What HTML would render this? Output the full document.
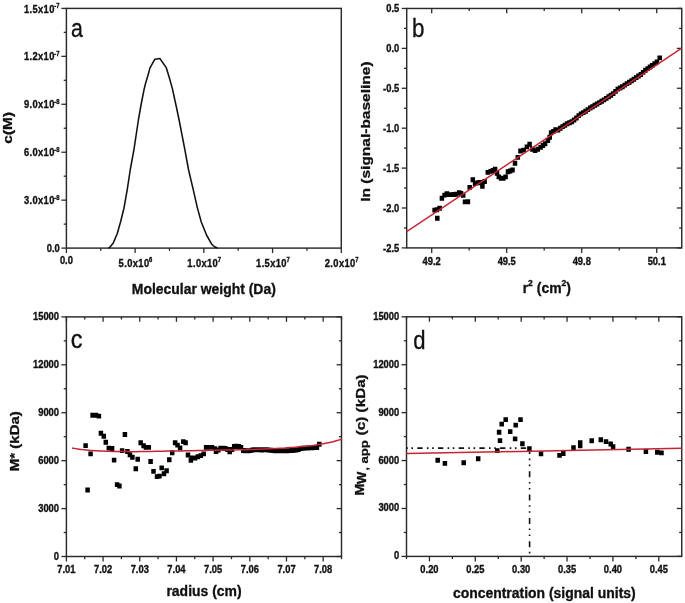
<!DOCTYPE html>
<html><head><meta charset="utf-8"><style>
html,body{margin:0;padding:0;background:#fff;}
svg{display:block;filter:blur(0.4px);}
text{font-family:"Liberation Sans", sans-serif;fill:#111;stroke:#111;stroke-width:0.35px;}
</style></head><body>
<svg width="685" height="603" viewBox="0 0 685 603">
<rect width="685" height="603" fill="#fff"/>
<rect x="66.4" y="8.4" width="274.9" height="239.7" fill="none" stroke="#2a2a2a" stroke-width="1.45"/>
<line x1="66.4" y1="248.1" x2="66.4" y2="253.1" stroke="#2a2a2a" stroke-width="1.3"/>
<line x1="135.12" y1="248.1" x2="135.12" y2="253.1" stroke="#2a2a2a" stroke-width="1.3"/>
<line x1="203.85" y1="248.1" x2="203.85" y2="253.1" stroke="#2a2a2a" stroke-width="1.3"/>
<line x1="272.57" y1="248.1" x2="272.57" y2="253.1" stroke="#2a2a2a" stroke-width="1.3"/>
<line x1="341.3" y1="248.1" x2="341.3" y2="253.1" stroke="#2a2a2a" stroke-width="1.3"/>
<line x1="100.76" y1="248.1" x2="100.76" y2="250.8" stroke="#2a2a2a" stroke-width="1.3"/>
<line x1="169.49" y1="248.1" x2="169.49" y2="250.8" stroke="#2a2a2a" stroke-width="1.3"/>
<line x1="238.21" y1="248.1" x2="238.21" y2="250.8" stroke="#2a2a2a" stroke-width="1.3"/>
<line x1="306.94" y1="248.1" x2="306.94" y2="250.8" stroke="#2a2a2a" stroke-width="1.3"/>
<line x1="61.4" y1="248.1" x2="66.4" y2="248.1" stroke="#2a2a2a" stroke-width="1.3"/>
<line x1="61.4" y1="200.16" x2="66.4" y2="200.16" stroke="#2a2a2a" stroke-width="1.3"/>
<line x1="61.4" y1="152.22" x2="66.4" y2="152.22" stroke="#2a2a2a" stroke-width="1.3"/>
<line x1="61.4" y1="104.28" x2="66.4" y2="104.28" stroke="#2a2a2a" stroke-width="1.3"/>
<line x1="61.4" y1="56.34" x2="66.4" y2="56.34" stroke="#2a2a2a" stroke-width="1.3"/>
<line x1="61.4" y1="8.4" x2="66.4" y2="8.4" stroke="#2a2a2a" stroke-width="1.3"/>
<line x1="63.7" y1="224.13" x2="66.4" y2="224.13" stroke="#2a2a2a" stroke-width="1.3"/>
<line x1="63.7" y1="176.19" x2="66.4" y2="176.19" stroke="#2a2a2a" stroke-width="1.3"/>
<line x1="63.7" y1="128.25" x2="66.4" y2="128.25" stroke="#2a2a2a" stroke-width="1.3"/>
<line x1="63.7" y1="80.31" x2="66.4" y2="80.31" stroke="#2a2a2a" stroke-width="1.3"/>
<line x1="63.7" y1="32.37" x2="66.4" y2="32.37" stroke="#2a2a2a" stroke-width="1.3"/>
<text transform="translate(59.7 252.2) scale(0.9 1)" font-size="10.4" font-weight="bold" text-anchor="end">0.0</text>
<text transform="translate(59.5 204.26) scale(0.9 1)" font-size="10.4" font-weight="bold" text-anchor="end" letter-spacing="0.42">3.0x10<tspan font-size="6.5" dx="-0.5" dy="-4.3" letter-spacing="0">-8</tspan></text>
<text transform="translate(59.5 156.32) scale(0.9 1)" font-size="10.4" font-weight="bold" text-anchor="end" letter-spacing="0.42">6.0x10<tspan font-size="6.5" dx="-0.5" dy="-4.3" letter-spacing="0">-8</tspan></text>
<text transform="translate(59.5 108.38) scale(0.9 1)" font-size="10.4" font-weight="bold" text-anchor="end" letter-spacing="0.42">9.0x10<tspan font-size="6.5" dx="-0.5" dy="-4.3" letter-spacing="0">-8</tspan></text>
<text transform="translate(59.5 60.44) scale(0.9 1)" font-size="10.4" font-weight="bold" text-anchor="end" letter-spacing="0.42">1.2x10<tspan font-size="6.5" dx="-0.5" dy="-4.3" letter-spacing="0">-7</tspan></text>
<text transform="translate(59.5 12.5) scale(0.9 1)" font-size="10.4" font-weight="bold" text-anchor="end" letter-spacing="0.42">1.5x10<tspan font-size="6.5" dx="-0.5" dy="-4.3" letter-spacing="0">-7</tspan></text>
<text transform="translate(66.4 264.4) scale(0.9 1)" font-size="10.4" font-weight="bold" text-anchor="middle">0.0</text>
<text transform="translate(135.43 266.5) scale(0.9 1)" font-size="10.4" font-weight="bold" text-anchor="middle" letter-spacing="0.42">5.0x10<tspan font-size="6.5" dx="-0.5" dy="-4.3" letter-spacing="0">6</tspan></text>
<text transform="translate(204.15 266.5) scale(0.9 1)" font-size="10.4" font-weight="bold" text-anchor="middle" letter-spacing="0.42">1.0x10<tspan font-size="6.5" dx="-0.5" dy="-4.3" letter-spacing="0">7</tspan></text>
<text transform="translate(272.88 266.5) scale(0.9 1)" font-size="10.4" font-weight="bold" text-anchor="middle" letter-spacing="0.42">1.5x10<tspan font-size="6.5" dx="-0.5" dy="-4.3" letter-spacing="0">7</tspan></text>
<text transform="translate(341.6 266.5) scale(0.9 1)" font-size="10.4" font-weight="bold" text-anchor="middle" letter-spacing="0.42">2.0x10<tspan font-size="6.5" dx="-0.5" dy="-4.3" letter-spacing="0">7</tspan></text>
<text transform="translate(203.8 294.1) scale(0.9 1)" font-size="15.5" font-weight="bold" text-anchor="middle">Molecular weight (Da)</text>
<text transform="translate(11.5 127.8) scale(0.8 1) rotate(-90)" font-size="15.5" font-weight="bold" text-anchor="middle">c(M)</text>
<text transform="translate(71 36.9) scale(0.82 1)" font-size="26" font-weight="normal" text-anchor="start">a</text>
<path d="M108.3 248.1 L109.6 247.4 L113.3 242.9 L117.2 233.7 L120.6 221.7 L123.9 208.5 L127.2 189.9 L130.2 170 L133.9 149.8 L138.4 120 L141.2 104 L144 89.8 L145.6 83.2 L148 75.2 L150 67.9 L154.9 59.2 L159.9 58.5 L166.2 67.6 L169.2 77.2 L172.5 89.1 L176.6 108 L179.1 120 L184.9 149.8 L188.6 170 L193.3 189.9 L197.2 207.1 L201.2 221.7 L206.5 235 L211.8 244.3 L214.5 246.8 L217.5 248" fill="none" stroke="#111" stroke-width="1.55" stroke-linejoin="round"/>
<rect x="406.7" y="8.46" width="275.05" height="239.44" fill="none" stroke="#2a2a2a" stroke-width="1.45"/>
<line x1="431.7" y1="247.9" x2="431.7" y2="252.9" stroke="#2a2a2a" stroke-width="1.3"/>
<line x1="431.7" y1="8.46" x2="431.7" y2="13.36" stroke="#2a2a2a" stroke-width="1.3"/>
<line x1="506.72" y1="247.9" x2="506.72" y2="252.9" stroke="#2a2a2a" stroke-width="1.3"/>
<line x1="506.72" y1="8.46" x2="506.72" y2="13.36" stroke="#2a2a2a" stroke-width="1.3"/>
<line x1="581.73" y1="247.9" x2="581.73" y2="252.9" stroke="#2a2a2a" stroke-width="1.3"/>
<line x1="581.73" y1="8.46" x2="581.73" y2="13.36" stroke="#2a2a2a" stroke-width="1.3"/>
<line x1="656.75" y1="247.9" x2="656.75" y2="252.9" stroke="#2a2a2a" stroke-width="1.3"/>
<line x1="656.75" y1="8.46" x2="656.75" y2="13.36" stroke="#2a2a2a" stroke-width="1.3"/>
<line x1="469.21" y1="247.9" x2="469.21" y2="250.6" stroke="#2a2a2a" stroke-width="1.3"/>
<line x1="469.21" y1="8.46" x2="469.21" y2="11.06" stroke="#2a2a2a" stroke-width="1.3"/>
<line x1="544.22" y1="247.9" x2="544.22" y2="250.6" stroke="#2a2a2a" stroke-width="1.3"/>
<line x1="544.22" y1="8.46" x2="544.22" y2="11.06" stroke="#2a2a2a" stroke-width="1.3"/>
<line x1="619.24" y1="247.9" x2="619.24" y2="250.6" stroke="#2a2a2a" stroke-width="1.3"/>
<line x1="619.24" y1="8.46" x2="619.24" y2="11.06" stroke="#2a2a2a" stroke-width="1.3"/>
<line x1="401.7" y1="247.9" x2="406.7" y2="247.9" stroke="#2a2a2a" stroke-width="1.3"/>
<line x1="676.85" y1="247.9" x2="681.75" y2="247.9" stroke="#2a2a2a" stroke-width="1.3"/>
<line x1="401.7" y1="207.99" x2="406.7" y2="207.99" stroke="#2a2a2a" stroke-width="1.3"/>
<line x1="676.85" y1="207.99" x2="681.75" y2="207.99" stroke="#2a2a2a" stroke-width="1.3"/>
<line x1="401.7" y1="168.09" x2="406.7" y2="168.09" stroke="#2a2a2a" stroke-width="1.3"/>
<line x1="676.85" y1="168.09" x2="681.75" y2="168.09" stroke="#2a2a2a" stroke-width="1.3"/>
<line x1="401.7" y1="128.18" x2="406.7" y2="128.18" stroke="#2a2a2a" stroke-width="1.3"/>
<line x1="676.85" y1="128.18" x2="681.75" y2="128.18" stroke="#2a2a2a" stroke-width="1.3"/>
<line x1="401.7" y1="88.27" x2="406.7" y2="88.27" stroke="#2a2a2a" stroke-width="1.3"/>
<line x1="676.85" y1="88.27" x2="681.75" y2="88.27" stroke="#2a2a2a" stroke-width="1.3"/>
<line x1="401.7" y1="48.37" x2="406.7" y2="48.37" stroke="#2a2a2a" stroke-width="1.3"/>
<line x1="676.85" y1="48.37" x2="681.75" y2="48.37" stroke="#2a2a2a" stroke-width="1.3"/>
<line x1="401.7" y1="8.46" x2="406.7" y2="8.46" stroke="#2a2a2a" stroke-width="1.3"/>
<line x1="676.85" y1="8.46" x2="681.75" y2="8.46" stroke="#2a2a2a" stroke-width="1.3"/>
<line x1="404" y1="227.95" x2="406.7" y2="227.95" stroke="#2a2a2a" stroke-width="1.3"/>
<line x1="679.15" y1="227.95" x2="681.75" y2="227.95" stroke="#2a2a2a" stroke-width="1.3"/>
<line x1="404" y1="188.04" x2="406.7" y2="188.04" stroke="#2a2a2a" stroke-width="1.3"/>
<line x1="679.15" y1="188.04" x2="681.75" y2="188.04" stroke="#2a2a2a" stroke-width="1.3"/>
<line x1="404" y1="148.13" x2="406.7" y2="148.13" stroke="#2a2a2a" stroke-width="1.3"/>
<line x1="679.15" y1="148.13" x2="681.75" y2="148.13" stroke="#2a2a2a" stroke-width="1.3"/>
<line x1="404" y1="108.23" x2="406.7" y2="108.23" stroke="#2a2a2a" stroke-width="1.3"/>
<line x1="679.15" y1="108.23" x2="681.75" y2="108.23" stroke="#2a2a2a" stroke-width="1.3"/>
<line x1="404" y1="68.32" x2="406.7" y2="68.32" stroke="#2a2a2a" stroke-width="1.3"/>
<line x1="679.15" y1="68.32" x2="681.75" y2="68.32" stroke="#2a2a2a" stroke-width="1.3"/>
<line x1="404" y1="28.41" x2="406.7" y2="28.41" stroke="#2a2a2a" stroke-width="1.3"/>
<line x1="679.15" y1="28.41" x2="681.75" y2="28.41" stroke="#2a2a2a" stroke-width="1.3"/>
<text transform="translate(399.2 251.5) scale(0.9 1)" font-size="10.4" font-weight="bold" text-anchor="end">-2.5</text>
<text transform="translate(399.2 211.59) scale(0.9 1)" font-size="10.4" font-weight="bold" text-anchor="end">-2.0</text>
<text transform="translate(399.2 171.69) scale(0.9 1)" font-size="10.4" font-weight="bold" text-anchor="end">-1.5</text>
<text transform="translate(399.2 131.78) scale(0.9 1)" font-size="10.4" font-weight="bold" text-anchor="end">-1.0</text>
<text transform="translate(399.2 91.87) scale(0.9 1)" font-size="10.4" font-weight="bold" text-anchor="end">-0.5</text>
<text transform="translate(399.2 51.97) scale(0.9 1)" font-size="10.4" font-weight="bold" text-anchor="end">0.0</text>
<text transform="translate(399.2 12.06) scale(0.9 1)" font-size="10.4" font-weight="bold" text-anchor="end">0.5</text>
<text transform="translate(431.7 264.6) scale(0.9 1)" font-size="10.4" font-weight="bold" text-anchor="middle">49.2</text>
<text transform="translate(506.72 264.6) scale(0.9 1)" font-size="10.4" font-weight="bold" text-anchor="middle">49.5</text>
<text transform="translate(581.73 264.6) scale(0.9 1)" font-size="10.4" font-weight="bold" text-anchor="middle">49.8</text>
<text transform="translate(656.75 264.6) scale(0.9 1)" font-size="10.4" font-weight="bold" text-anchor="middle">50.1</text>
<text transform="translate(546.8 293.4) scale(0.9 1)" font-size="15.5" font-weight="bold" text-anchor="middle">r<tspan font-size="9.5" dy="-7">2</tspan><tspan dy="7"> (cm</tspan><tspan font-size="9.5" dy="-7">2</tspan><tspan dy="7">)</tspan></text>
<text transform="translate(370 131.6) scale(0.77 1) rotate(-90)" font-size="15.5" font-weight="bold" text-anchor="middle">ln (signal-baseline)</text>
<text transform="translate(412 36.9) scale(0.86 1)" font-size="26" font-weight="normal" text-anchor="start">b</text>
<path d="M432.35 207.65h4.5v4.9h-4.5zM434.65 207.25h4.5v4.9h-4.5zM435.05 215.75h4.5v4.9h-4.5zM437.35 205.85h4.5v4.9h-4.5zM439.65 195.85h4.5v4.9h-4.5zM442.35 192.65h4.5v4.9h-4.5zM444.65 191.25h4.5v4.9h-4.5zM446.95 192.15h4.5v4.9h-4.5zM449.25 192.15h4.5v4.9h-4.5zM451.45 192.05h4.5v4.9h-4.5zM453.75 191.75h4.5v4.9h-4.5zM456.95 190.35h4.5v4.9h-4.5zM458.75 191.05h4.5v4.9h-4.5zM460.95 192.75h4.5v4.9h-4.5zM462.75 199.45h4.5v4.9h-4.5zM465.65 199.35h4.5v4.9h-4.5zM467.45 184.95h4.5v4.9h-4.5zM470.55 177.25h4.5v4.9h-4.5zM472.85 181.15h4.5v4.9h-4.5zM475.55 180.35h4.5v4.9h-4.5zM477.85 179.95h4.5v4.9h-4.5zM480.15 183.85h4.5v4.9h-4.5zM482.35 179.05h4.5v4.9h-4.5zM485.55 169.95h4.5v4.9h-4.5zM488.35 168.95h4.5v4.9h-4.5zM490.55 168.05h4.5v4.9h-4.5zM492.85 166.75h4.5v4.9h-4.5zM494.75 170.85h4.5v4.9h-4.5zM496.55 174.45h4.5v4.9h-4.5zM498.85 175.85h4.5v4.9h-4.5zM501.05 175.85h4.5v4.9h-4.5zM503.35 174.45h4.5v4.9h-4.5zM505.75 169.35h4.5v4.9h-4.5zM507.95 168.55h4.5v4.9h-4.5zM510.25 167.55h4.5v4.9h-4.5zM512.75 160.85h4.5v4.9h-4.5zM515.55 154.95h4.5v4.9h-4.5zM518.25 148.55h4.5v4.9h-4.5zM521.45 147.65h4.5v4.9h-4.5zM524.65 144.45h4.5v4.9h-4.5zM527.35 141.75h4.5v4.9h-4.5zM530.15 146.75h4.5v4.9h-4.5zM532.85 148.15h4.5v4.9h-4.5zM535.55 146.75h4.5v4.9h-4.5zM538.35 144.95h4.5v4.9h-4.5zM540.65 143.05h4.5v4.9h-4.5zM542.85 141.25h4.5v4.9h-4.5zM545.65 138.05h4.5v4.9h-4.5zM547.45 134.85h4.5v4.9h-4.5zM548.85 130.35h4.5v4.9h-4.5zM551.15 128.95h4.5v4.9h-4.5zM553.35 127.15h4.5v4.9h-4.5zM555.75 127.48h4.5v4.9h-4.5zM558.05 125.84h4.5v4.9h-4.5zM560.35 124.22h4.5v4.9h-4.5zM562.65 122.78h4.5v4.9h-4.5zM564.95 121.34h4.5v4.9h-4.5zM567.25 120.27h4.5v4.9h-4.5zM569.55 119.25h4.5v4.9h-4.5zM571.85 117.55h4.5v4.9h-4.5zM574.15 115.54h4.5v4.9h-4.5zM576.45 113.2h4.5v4.9h-4.5zM578.75 111.41h4.5v4.9h-4.5zM581.05 110.22h4.5v4.9h-4.5zM583.35 108.75h4.5v4.9h-4.5zM585.65 107.18h4.5v4.9h-4.5zM587.95 105.62h4.5v4.9h-4.5zM590.25 104.23h4.5v4.9h-4.5zM592.55 102.83h4.5v4.9h-4.5zM594.85 101.48h4.5v4.9h-4.5zM597.15 100.13h4.5v4.9h-4.5zM599.45 98.78h4.5v4.9h-4.5zM601.75 97.43h4.5v4.9h-4.5zM604.05 95.95h4.5v4.9h-4.5zM606.35 94.37h4.5v4.9h-4.5zM608.65 92.79h4.5v4.9h-4.5zM610.95 91.2h4.5v4.9h-4.5zM613.25 88.89h4.5v4.9h-4.5zM615.55 86.72h4.5v4.9h-4.5zM617.85 85.51h4.5v4.9h-4.5zM620.15 84.24h4.5v4.9h-4.5zM622.45 82.71h4.5v4.9h-4.5zM624.75 81.18h4.5v4.9h-4.5zM627.05 79.74h4.5v4.9h-4.5zM629.35 78.3h4.5v4.9h-4.5zM631.65 76.74h4.5v4.9h-4.5zM633.95 75.16h4.5v4.9h-4.5zM636.25 73.61h4.5v4.9h-4.5zM638.55 72.08h4.5v4.9h-4.5zM640.85 69.97h4.5v4.9h-4.5zM643.15 67.83h4.5v4.9h-4.5zM645.45 66.19h4.5v4.9h-4.5zM647.75 64.56h4.5v4.9h-4.5zM650.05 62.89h4.5v4.9h-4.5zM652.35 61.22h4.5v4.9h-4.5zM654.65 59.47h4.5v4.9h-4.5zM657.45 55.45h4.5v4.9h-4.5z" fill="#000"/>
<line x1="406.7" y1="231.6" x2="681.75" y2="48.2" stroke="#c22634" stroke-width="1.45"/>
<rect x="66.4" y="316.9" width="275.1" height="239.6" fill="none" stroke="#2a2a2a" stroke-width="1.45"/>
<line x1="66.4" y1="556.5" x2="66.4" y2="561.5" stroke="#2a2a2a" stroke-width="1.3"/>
<line x1="66.4" y1="316.9" x2="66.4" y2="321.8" stroke="#2a2a2a" stroke-width="1.3"/>
<line x1="103.08" y1="556.5" x2="103.08" y2="561.5" stroke="#2a2a2a" stroke-width="1.3"/>
<line x1="103.08" y1="316.9" x2="103.08" y2="321.8" stroke="#2a2a2a" stroke-width="1.3"/>
<line x1="139.76" y1="556.5" x2="139.76" y2="561.5" stroke="#2a2a2a" stroke-width="1.3"/>
<line x1="139.76" y1="316.9" x2="139.76" y2="321.8" stroke="#2a2a2a" stroke-width="1.3"/>
<line x1="176.44" y1="556.5" x2="176.44" y2="561.5" stroke="#2a2a2a" stroke-width="1.3"/>
<line x1="176.44" y1="316.9" x2="176.44" y2="321.8" stroke="#2a2a2a" stroke-width="1.3"/>
<line x1="213.12" y1="556.5" x2="213.12" y2="561.5" stroke="#2a2a2a" stroke-width="1.3"/>
<line x1="213.12" y1="316.9" x2="213.12" y2="321.8" stroke="#2a2a2a" stroke-width="1.3"/>
<line x1="249.8" y1="556.5" x2="249.8" y2="561.5" stroke="#2a2a2a" stroke-width="1.3"/>
<line x1="249.8" y1="316.9" x2="249.8" y2="321.8" stroke="#2a2a2a" stroke-width="1.3"/>
<line x1="286.48" y1="556.5" x2="286.48" y2="561.5" stroke="#2a2a2a" stroke-width="1.3"/>
<line x1="286.48" y1="316.9" x2="286.48" y2="321.8" stroke="#2a2a2a" stroke-width="1.3"/>
<line x1="323.16" y1="556.5" x2="323.16" y2="561.5" stroke="#2a2a2a" stroke-width="1.3"/>
<line x1="323.16" y1="316.9" x2="323.16" y2="321.8" stroke="#2a2a2a" stroke-width="1.3"/>
<line x1="84.74" y1="556.5" x2="84.74" y2="559.2" stroke="#2a2a2a" stroke-width="1.3"/>
<line x1="84.74" y1="316.9" x2="84.74" y2="319.5" stroke="#2a2a2a" stroke-width="1.3"/>
<line x1="121.42" y1="556.5" x2="121.42" y2="559.2" stroke="#2a2a2a" stroke-width="1.3"/>
<line x1="121.42" y1="316.9" x2="121.42" y2="319.5" stroke="#2a2a2a" stroke-width="1.3"/>
<line x1="158.1" y1="556.5" x2="158.1" y2="559.2" stroke="#2a2a2a" stroke-width="1.3"/>
<line x1="158.1" y1="316.9" x2="158.1" y2="319.5" stroke="#2a2a2a" stroke-width="1.3"/>
<line x1="194.78" y1="556.5" x2="194.78" y2="559.2" stroke="#2a2a2a" stroke-width="1.3"/>
<line x1="194.78" y1="316.9" x2="194.78" y2="319.5" stroke="#2a2a2a" stroke-width="1.3"/>
<line x1="231.46" y1="556.5" x2="231.46" y2="559.2" stroke="#2a2a2a" stroke-width="1.3"/>
<line x1="231.46" y1="316.9" x2="231.46" y2="319.5" stroke="#2a2a2a" stroke-width="1.3"/>
<line x1="268.14" y1="556.5" x2="268.14" y2="559.2" stroke="#2a2a2a" stroke-width="1.3"/>
<line x1="268.14" y1="316.9" x2="268.14" y2="319.5" stroke="#2a2a2a" stroke-width="1.3"/>
<line x1="304.82" y1="556.5" x2="304.82" y2="559.2" stroke="#2a2a2a" stroke-width="1.3"/>
<line x1="304.82" y1="316.9" x2="304.82" y2="319.5" stroke="#2a2a2a" stroke-width="1.3"/>
<line x1="341.5" y1="556.5" x2="341.5" y2="559.2" stroke="#2a2a2a" stroke-width="1.3"/>
<line x1="341.5" y1="316.9" x2="341.5" y2="319.5" stroke="#2a2a2a" stroke-width="1.3"/>
<line x1="61.4" y1="556.5" x2="66.4" y2="556.5" stroke="#2a2a2a" stroke-width="1.3"/>
<line x1="336.6" y1="556.5" x2="341.5" y2="556.5" stroke="#2a2a2a" stroke-width="1.3"/>
<line x1="61.4" y1="508.58" x2="66.4" y2="508.58" stroke="#2a2a2a" stroke-width="1.3"/>
<line x1="336.6" y1="508.58" x2="341.5" y2="508.58" stroke="#2a2a2a" stroke-width="1.3"/>
<line x1="61.4" y1="460.66" x2="66.4" y2="460.66" stroke="#2a2a2a" stroke-width="1.3"/>
<line x1="336.6" y1="460.66" x2="341.5" y2="460.66" stroke="#2a2a2a" stroke-width="1.3"/>
<line x1="61.4" y1="412.74" x2="66.4" y2="412.74" stroke="#2a2a2a" stroke-width="1.3"/>
<line x1="336.6" y1="412.74" x2="341.5" y2="412.74" stroke="#2a2a2a" stroke-width="1.3"/>
<line x1="61.4" y1="364.82" x2="66.4" y2="364.82" stroke="#2a2a2a" stroke-width="1.3"/>
<line x1="336.6" y1="364.82" x2="341.5" y2="364.82" stroke="#2a2a2a" stroke-width="1.3"/>
<line x1="61.4" y1="316.9" x2="66.4" y2="316.9" stroke="#2a2a2a" stroke-width="1.3"/>
<line x1="336.6" y1="316.9" x2="341.5" y2="316.9" stroke="#2a2a2a" stroke-width="1.3"/>
<line x1="63.7" y1="532.54" x2="66.4" y2="532.54" stroke="#2a2a2a" stroke-width="1.3"/>
<line x1="338.9" y1="532.54" x2="341.5" y2="532.54" stroke="#2a2a2a" stroke-width="1.3"/>
<line x1="63.7" y1="484.62" x2="66.4" y2="484.62" stroke="#2a2a2a" stroke-width="1.3"/>
<line x1="338.9" y1="484.62" x2="341.5" y2="484.62" stroke="#2a2a2a" stroke-width="1.3"/>
<line x1="63.7" y1="436.7" x2="66.4" y2="436.7" stroke="#2a2a2a" stroke-width="1.3"/>
<line x1="338.9" y1="436.7" x2="341.5" y2="436.7" stroke="#2a2a2a" stroke-width="1.3"/>
<line x1="63.7" y1="388.78" x2="66.4" y2="388.78" stroke="#2a2a2a" stroke-width="1.3"/>
<line x1="338.9" y1="388.78" x2="341.5" y2="388.78" stroke="#2a2a2a" stroke-width="1.3"/>
<line x1="63.7" y1="340.86" x2="66.4" y2="340.86" stroke="#2a2a2a" stroke-width="1.3"/>
<line x1="338.9" y1="340.86" x2="341.5" y2="340.86" stroke="#2a2a2a" stroke-width="1.3"/>
<text transform="translate(59 559.5) scale(0.9 1)" font-size="10.4" font-weight="bold" text-anchor="end">0</text>
<text transform="translate(59 511.58) scale(0.9 1)" font-size="10.4" font-weight="bold" text-anchor="end">3000</text>
<text transform="translate(59 463.66) scale(0.9 1)" font-size="10.4" font-weight="bold" text-anchor="end">6000</text>
<text transform="translate(59 415.74) scale(0.9 1)" font-size="10.4" font-weight="bold" text-anchor="end">9000</text>
<text transform="translate(59 367.82) scale(0.9 1)" font-size="10.4" font-weight="bold" text-anchor="end">12000</text>
<text transform="translate(59 319.9) scale(0.9 1)" font-size="10.4" font-weight="bold" text-anchor="end">15000</text>
<text transform="translate(66.4 572.8) scale(0.9 1)" font-size="10.4" font-weight="bold" text-anchor="middle">7.01</text>
<text transform="translate(103.08 572.8) scale(0.9 1)" font-size="10.4" font-weight="bold" text-anchor="middle">7.02</text>
<text transform="translate(139.76 572.8) scale(0.9 1)" font-size="10.4" font-weight="bold" text-anchor="middle">7.03</text>
<text transform="translate(176.44 572.8) scale(0.9 1)" font-size="10.4" font-weight="bold" text-anchor="middle">7.04</text>
<text transform="translate(213.12 572.8) scale(0.9 1)" font-size="10.4" font-weight="bold" text-anchor="middle">7.05</text>
<text transform="translate(249.8 572.8) scale(0.9 1)" font-size="10.4" font-weight="bold" text-anchor="middle">7.06</text>
<text transform="translate(286.48 572.8) scale(0.9 1)" font-size="10.4" font-weight="bold" text-anchor="middle">7.07</text>
<text transform="translate(323.16 572.8) scale(0.9 1)" font-size="10.4" font-weight="bold" text-anchor="middle">7.08</text>
<text transform="translate(204 596.3) scale(0.9 1)" font-size="15.5" font-weight="bold" text-anchor="middle">radius (cm)</text>
<text transform="translate(19.4 441.2) scale(0.84 1) rotate(-90)" font-size="15.0" font-weight="bold" text-anchor="middle">M* (kDa)</text>
<text transform="translate(70.8 348.2) scale(0.9 1)" font-size="26" font-weight="normal" text-anchor="start">c</text>
<path d="M83.35 443.15h4.5v4.9h-4.5zM85.35 487.55h4.5v4.9h-4.5zM88.35 451.45h4.5v4.9h-4.5zM90.35 412.85h4.5v4.9h-4.5zM93.65 412.85h4.5v4.9h-4.5zM96.65 413.65h4.5v4.9h-4.5zM98.65 430.75h4.5v4.9h-4.5zM101.55 433.75h4.5v4.9h-4.5zM103.55 439.85h4.5v4.9h-4.5zM106.55 445.65h4.5v4.9h-4.5zM109.85 446.05h4.5v4.9h-4.5zM111.85 457.65h4.5v4.9h-4.5zM114.85 482.15h4.5v4.9h-4.5zM117.15 483.55h4.5v4.9h-4.5zM119.85 448.15h4.5v4.9h-4.5zM122.65 432.05h4.5v4.9h-4.5zM125.15 449.05h4.5v4.9h-4.5zM127.65 452.35h4.5v4.9h-4.5zM130.15 454.85h4.5v4.9h-4.5zM133.55 466.25h4.5v4.9h-4.5zM135.45 456.85h4.5v4.9h-4.5zM138.45 440.35h4.5v4.9h-4.5zM141.35 443.25h4.5v4.9h-4.5zM143.65 444.95h4.5v4.9h-4.5zM146.55 444.95h4.5v4.9h-4.5zM148.35 459.05h4.5v4.9h-4.5zM151.25 468.95h4.5v4.9h-4.5zM154.75 474.15h4.5v4.9h-4.5zM157.15 473.65h4.5v4.9h-4.5zM159.45 465.45h4.5v4.9h-4.5zM161.75 471.25h4.5v4.9h-4.5zM164.35 468.35h4.5v4.9h-4.5zM167.05 457.25h4.5v4.9h-4.5zM169.95 450.25h4.5v4.9h-4.5zM172.85 440.35h4.5v4.9h-4.5zM175.25 442.65h4.5v4.9h-4.5zM177.85 445.55h4.5v4.9h-4.5zM181.05 439.15h4.5v4.9h-4.5zM183.35 440.35h4.5v4.9h-4.5zM185.75 452.55h4.5v4.9h-4.5zM188.65 457.85h4.5v4.9h-4.5zM189.85 455.55h4.5v4.9h-4.5zM192.75 455.55h4.5v4.9h-4.5zM195.65 454.35h4.5v4.9h-4.5zM198.55 453.15h4.5v4.9h-4.5zM201.45 451.45h4.5v4.9h-4.5zM203.85 444.95h4.5v4.9h-4.5zM206.75 444.95h4.5v4.9h-4.5zM209.65 444.95h4.5v4.9h-4.5zM212.55 446.15h4.5v4.9h-4.5zM213.75 449.05h4.5v4.9h-4.5zM216.05 447.55h4.5v4.9h-4.5zM218.35 445.85h4.5v4.9h-4.5zM220.75 445.75h4.5v4.9h-4.5zM223.05 446.05h4.5v4.9h-4.5zM225.35 447.05h4.5v4.9h-4.5zM227.45 449.35h4.5v4.9h-4.5zM229.75 447.05h4.5v4.9h-4.5zM231.95 444.05h4.5v4.9h-4.5zM234.25 443.75h4.5v4.9h-4.5zM236.55 444.05h4.5v4.9h-4.5zM238.75 445.05h4.5v4.9h-4.5zM241.05 448.05h4.5v4.9h-4.5zM243.35 448.35h4.5v4.9h-4.5zM245.65 448.35h4.5v4.9h-4.5zM247.95 448.15h4.5v4.9h-4.5zM250.25 447.55h4.5v4.9h-4.5zM252.55 447.35h4.5v4.9h-4.5zM254.85 447.35h4.5v4.9h-4.5zM257.15 447.35h4.5v4.9h-4.5zM259.45 447.55h4.5v4.9h-4.5zM261.75 447.35h4.5v4.9h-4.5zM264.05 447.35h4.5v4.9h-4.5zM266.35 447.55h4.5v4.9h-4.5zM268.65 447.85h4.5v4.9h-4.5zM270.95 448.05h4.5v4.9h-4.5zM273.25 448.25h4.5v4.9h-4.5zM275.55 448.25h4.5v4.9h-4.5zM277.85 448.25h4.5v4.9h-4.5zM280.15 448.35h4.5v4.9h-4.5zM282.45 448.35h4.5v4.9h-4.5zM284.75 448.35h4.5v4.9h-4.5zM287.05 448.15h4.5v4.9h-4.5zM289.35 448.05h4.5v4.9h-4.5zM291.65 447.85h4.5v4.9h-4.5zM293.95 447.55h4.5v4.9h-4.5zM296.25 447.15h4.5v4.9h-4.5zM298.55 446.15h4.5v4.9h-4.5zM300.85 445.85h4.5v4.9h-4.5zM303.15 445.65h4.5v4.9h-4.5zM305.45 445.55h4.5v4.9h-4.5zM307.75 445.35h4.5v4.9h-4.5zM310.05 445.25h4.5v4.9h-4.5zM312.35 445.05h4.5v4.9h-4.5zM314.65 445.15h4.5v4.9h-4.5zM317.05 441.85h4.5v4.9h-4.5z" fill="#000"/>
<path d="M72.1 448 L73.03 448.15 L74.29 448.37 L75.79 448.63 L77.45 448.9 L79.18 449.16 L80.9 449.4 L82.63 449.62 L84.44 449.84 L86.33 450.05 L88.28 450.25 L90.27 450.44 L92.3 450.6 L94.38 450.74 L96.54 450.86 L98.74 450.96 L100.97 451.04 L103.2 451.12 L105.4 451.2 L107.49 451.27 L109.46 451.33 L111.43 451.38 L113.51 451.43 L115.83 451.47 L118.5 451.5 L121.44 451.54 L124.54 451.57 L127.88 451.61 L131.52 451.63 L135.54 451.63 L140 451.6 L145.05 451.54 L150.67 451.46 L156.66 451.35 L162.83 451.23 L169.01 451.11 L175 451 L180.83 450.89 L186.67 450.77 L192.5 450.65 L198.33 450.53 L204.17 450.41 L210 450.3 L215.83 450.2 L221.67 450.12 L227.5 450.04 L233.33 449.96 L239.17 449.85 L245 449.7 L251.13 449.5 L257.61 449.27 L264.09 449.01 L270.22 448.74 L275.64 448.5 L280 448.3 L282.95 448.15 L284.7 448.05 L285.75 447.96 L286.57 447.87 L287.66 447.76 L289.5 447.6 L292.19 447.39 L295.38 447.14 L298.82 446.87 L302.31 446.58 L305.61 446.29 L308.5 446 L310.95 445.72 L313.13 445.43 L315.12 445.14 L317.01 444.84 L318.88 444.53 L320.8 444.2 L322.79 443.85 L324.77 443.47 L326.74 443.09 L328.65 442.69 L330.48 442.29 L332.2 441.9 L333.87 441.48 L335.53 441.03 L337.11 440.57 L338.54 440.14 L339.76 439.77 L340.7 439.5 L341.29 439.34 L341.57 439.26 L341.63 439.25 L341.58 439.27 L341.5 439.3 L341.5 439.3" fill="none" stroke="#c22634" stroke-width="1.5" stroke-linejoin="round"/>
<rect x="406.5" y="316.8" width="275.25" height="239.6" fill="none" stroke="#2a2a2a" stroke-width="1.45"/>
<line x1="429.44" y1="556.4" x2="429.44" y2="561.4" stroke="#2a2a2a" stroke-width="1.3"/>
<line x1="429.44" y1="316.8" x2="429.44" y2="321.7" stroke="#2a2a2a" stroke-width="1.3"/>
<line x1="475.31" y1="556.4" x2="475.31" y2="561.4" stroke="#2a2a2a" stroke-width="1.3"/>
<line x1="475.31" y1="316.8" x2="475.31" y2="321.7" stroke="#2a2a2a" stroke-width="1.3"/>
<line x1="521.19" y1="556.4" x2="521.19" y2="561.4" stroke="#2a2a2a" stroke-width="1.3"/>
<line x1="521.19" y1="316.8" x2="521.19" y2="321.7" stroke="#2a2a2a" stroke-width="1.3"/>
<line x1="567.06" y1="556.4" x2="567.06" y2="561.4" stroke="#2a2a2a" stroke-width="1.3"/>
<line x1="567.06" y1="316.8" x2="567.06" y2="321.7" stroke="#2a2a2a" stroke-width="1.3"/>
<line x1="612.94" y1="556.4" x2="612.94" y2="561.4" stroke="#2a2a2a" stroke-width="1.3"/>
<line x1="612.94" y1="316.8" x2="612.94" y2="321.7" stroke="#2a2a2a" stroke-width="1.3"/>
<line x1="658.81" y1="556.4" x2="658.81" y2="561.4" stroke="#2a2a2a" stroke-width="1.3"/>
<line x1="658.81" y1="316.8" x2="658.81" y2="321.7" stroke="#2a2a2a" stroke-width="1.3"/>
<line x1="406.5" y1="556.4" x2="406.5" y2="559.1" stroke="#2a2a2a" stroke-width="1.3"/>
<line x1="406.5" y1="316.8" x2="406.5" y2="319.4" stroke="#2a2a2a" stroke-width="1.3"/>
<line x1="452.38" y1="556.4" x2="452.38" y2="559.1" stroke="#2a2a2a" stroke-width="1.3"/>
<line x1="452.38" y1="316.8" x2="452.38" y2="319.4" stroke="#2a2a2a" stroke-width="1.3"/>
<line x1="498.25" y1="556.4" x2="498.25" y2="559.1" stroke="#2a2a2a" stroke-width="1.3"/>
<line x1="498.25" y1="316.8" x2="498.25" y2="319.4" stroke="#2a2a2a" stroke-width="1.3"/>
<line x1="544.12" y1="556.4" x2="544.12" y2="559.1" stroke="#2a2a2a" stroke-width="1.3"/>
<line x1="544.12" y1="316.8" x2="544.12" y2="319.4" stroke="#2a2a2a" stroke-width="1.3"/>
<line x1="590" y1="556.4" x2="590" y2="559.1" stroke="#2a2a2a" stroke-width="1.3"/>
<line x1="590" y1="316.8" x2="590" y2="319.4" stroke="#2a2a2a" stroke-width="1.3"/>
<line x1="635.88" y1="556.4" x2="635.88" y2="559.1" stroke="#2a2a2a" stroke-width="1.3"/>
<line x1="635.88" y1="316.8" x2="635.88" y2="319.4" stroke="#2a2a2a" stroke-width="1.3"/>
<line x1="401.5" y1="556.4" x2="406.5" y2="556.4" stroke="#2a2a2a" stroke-width="1.3"/>
<line x1="676.85" y1="556.4" x2="681.75" y2="556.4" stroke="#2a2a2a" stroke-width="1.3"/>
<line x1="401.5" y1="508.48" x2="406.5" y2="508.48" stroke="#2a2a2a" stroke-width="1.3"/>
<line x1="676.85" y1="508.48" x2="681.75" y2="508.48" stroke="#2a2a2a" stroke-width="1.3"/>
<line x1="401.5" y1="460.56" x2="406.5" y2="460.56" stroke="#2a2a2a" stroke-width="1.3"/>
<line x1="676.85" y1="460.56" x2="681.75" y2="460.56" stroke="#2a2a2a" stroke-width="1.3"/>
<line x1="401.5" y1="412.64" x2="406.5" y2="412.64" stroke="#2a2a2a" stroke-width="1.3"/>
<line x1="676.85" y1="412.64" x2="681.75" y2="412.64" stroke="#2a2a2a" stroke-width="1.3"/>
<line x1="401.5" y1="364.72" x2="406.5" y2="364.72" stroke="#2a2a2a" stroke-width="1.3"/>
<line x1="676.85" y1="364.72" x2="681.75" y2="364.72" stroke="#2a2a2a" stroke-width="1.3"/>
<line x1="401.5" y1="316.8" x2="406.5" y2="316.8" stroke="#2a2a2a" stroke-width="1.3"/>
<line x1="676.85" y1="316.8" x2="681.75" y2="316.8" stroke="#2a2a2a" stroke-width="1.3"/>
<line x1="403.8" y1="532.44" x2="406.5" y2="532.44" stroke="#2a2a2a" stroke-width="1.3"/>
<line x1="679.15" y1="532.44" x2="681.75" y2="532.44" stroke="#2a2a2a" stroke-width="1.3"/>
<line x1="403.8" y1="484.52" x2="406.5" y2="484.52" stroke="#2a2a2a" stroke-width="1.3"/>
<line x1="679.15" y1="484.52" x2="681.75" y2="484.52" stroke="#2a2a2a" stroke-width="1.3"/>
<line x1="403.8" y1="436.6" x2="406.5" y2="436.6" stroke="#2a2a2a" stroke-width="1.3"/>
<line x1="679.15" y1="436.6" x2="681.75" y2="436.6" stroke="#2a2a2a" stroke-width="1.3"/>
<line x1="403.8" y1="388.68" x2="406.5" y2="388.68" stroke="#2a2a2a" stroke-width="1.3"/>
<line x1="679.15" y1="388.68" x2="681.75" y2="388.68" stroke="#2a2a2a" stroke-width="1.3"/>
<line x1="403.8" y1="340.76" x2="406.5" y2="340.76" stroke="#2a2a2a" stroke-width="1.3"/>
<line x1="679.15" y1="340.76" x2="681.75" y2="340.76" stroke="#2a2a2a" stroke-width="1.3"/>
<text transform="translate(399.2 559.4) scale(0.9 1)" font-size="10.4" font-weight="bold" text-anchor="end">0</text>
<text transform="translate(399.2 511.48) scale(0.9 1)" font-size="10.4" font-weight="bold" text-anchor="end">3000</text>
<text transform="translate(399.2 463.56) scale(0.9 1)" font-size="10.4" font-weight="bold" text-anchor="end">6000</text>
<text transform="translate(399.2 415.64) scale(0.9 1)" font-size="10.4" font-weight="bold" text-anchor="end">9000</text>
<text transform="translate(399.2 367.72) scale(0.9 1)" font-size="10.4" font-weight="bold" text-anchor="end">12000</text>
<text transform="translate(399.2 319.8) scale(0.9 1)" font-size="10.4" font-weight="bold" text-anchor="end">15000</text>
<text transform="translate(429.44 572.8) scale(0.9 1)" font-size="10.4" font-weight="bold" text-anchor="middle">0.20</text>
<text transform="translate(475.31 572.8) scale(0.9 1)" font-size="10.4" font-weight="bold" text-anchor="middle">0.25</text>
<text transform="translate(521.19 572.8) scale(0.9 1)" font-size="10.4" font-weight="bold" text-anchor="middle">0.30</text>
<text transform="translate(567.06 572.8) scale(0.9 1)" font-size="10.4" font-weight="bold" text-anchor="middle">0.35</text>
<text transform="translate(612.94 572.8) scale(0.9 1)" font-size="10.4" font-weight="bold" text-anchor="middle">0.40</text>
<text transform="translate(658.81 572.8) scale(0.9 1)" font-size="10.4" font-weight="bold" text-anchor="middle">0.45</text>
<text transform="translate(544.3 597.7) scale(0.9 1)" font-size="15.5" font-weight="bold" text-anchor="middle">concentration (signal units)</text>
<text transform="translate(364.4 495.4) scale(0.9 1) rotate(-90)" font-size="14.5" font-weight="bold" text-anchor="start">M</text>
<text transform="translate(365.6 483.9) scale(0.92 1) rotate(-90)" font-size="13.0" font-weight="bold" text-anchor="start">W</text>
<text transform="translate(368 470.2) scale(0.9 1) rotate(-90)" font-size="11" font-weight="bold" text-anchor="start">,</text>
<text transform="translate(368 463.6) scale(0.84 1) rotate(-90)" font-size="13.2" font-weight="bold" text-anchor="start">app</text>
<text transform="translate(364.7 374.3) scale(0.88 1) rotate(-90)" font-size="15.25" font-weight="bold" text-anchor="end">(c) (kDa)</text>
<text transform="translate(413.2 349.2) scale(0.85 1)" font-size="26" font-weight="normal" text-anchor="start">d</text>
<line x1="406.5" y1="448.1" x2="530.5" y2="448.1" stroke="#111" stroke-width="1.7" stroke-dasharray="5.3 4.3 1.6 3.6 1.6 4.3" stroke-dashoffset="9.9"/>
<line x1="529.6" y1="448" x2="529.6" y2="556.4" stroke="#111" stroke-width="1.6" stroke-dasharray="6 4.6 1.6 4.4 1.6 5.1"/>
<path d="M435.45 457.85h4.5v4.9h-4.5zM442.65 460.95h4.5v4.9h-4.5zM461.45 460.25h4.5v4.9h-4.5zM475.95 456.25h4.5v4.9h-4.5zM495.05 448.15h4.5v4.9h-4.5zM497.75 438.15h4.5v4.9h-4.5zM496.85 429.85h4.5v4.9h-4.5zM499.45 421.65h4.5v4.9h-4.5zM503.45 417.15h4.5v4.9h-4.5zM507.95 429.15h4.5v4.9h-4.5zM513.45 422.65h4.5v4.9h-4.5zM518.25 417.15h4.5v4.9h-4.5zM512.85 436.45h4.5v4.9h-4.5zM520.15 441.25h4.5v4.9h-4.5zM527.15 446.15h4.5v4.9h-4.5zM538.75 451.35h4.5v4.9h-4.5zM557.25 452.95h4.5v4.9h-4.5zM561.05 451.05h4.5v4.9h-4.5zM571.25 445.35h4.5v4.9h-4.5zM577.95 440.15h4.5v4.9h-4.5zM577.95 443.45h4.5v4.9h-4.5zM589.45 438.25h4.5v4.9h-4.5zM598.55 437.25h4.5v4.9h-4.5zM603.75 439.15h4.5v4.9h-4.5zM608.45 441.55h4.5v4.9h-4.5zM610.85 444.35h4.5v4.9h-4.5zM626.35 446.85h4.5v4.9h-4.5zM643.65 449.05h4.5v4.9h-4.5zM655.05 449.75h4.5v4.9h-4.5zM659.25 450.45h4.5v4.9h-4.5z" fill="#000"/>
<line x1="406.5" y1="453.6" x2="681.75" y2="448.2" stroke="#c22634" stroke-width="1.5"/>
</svg>
</body></html>
